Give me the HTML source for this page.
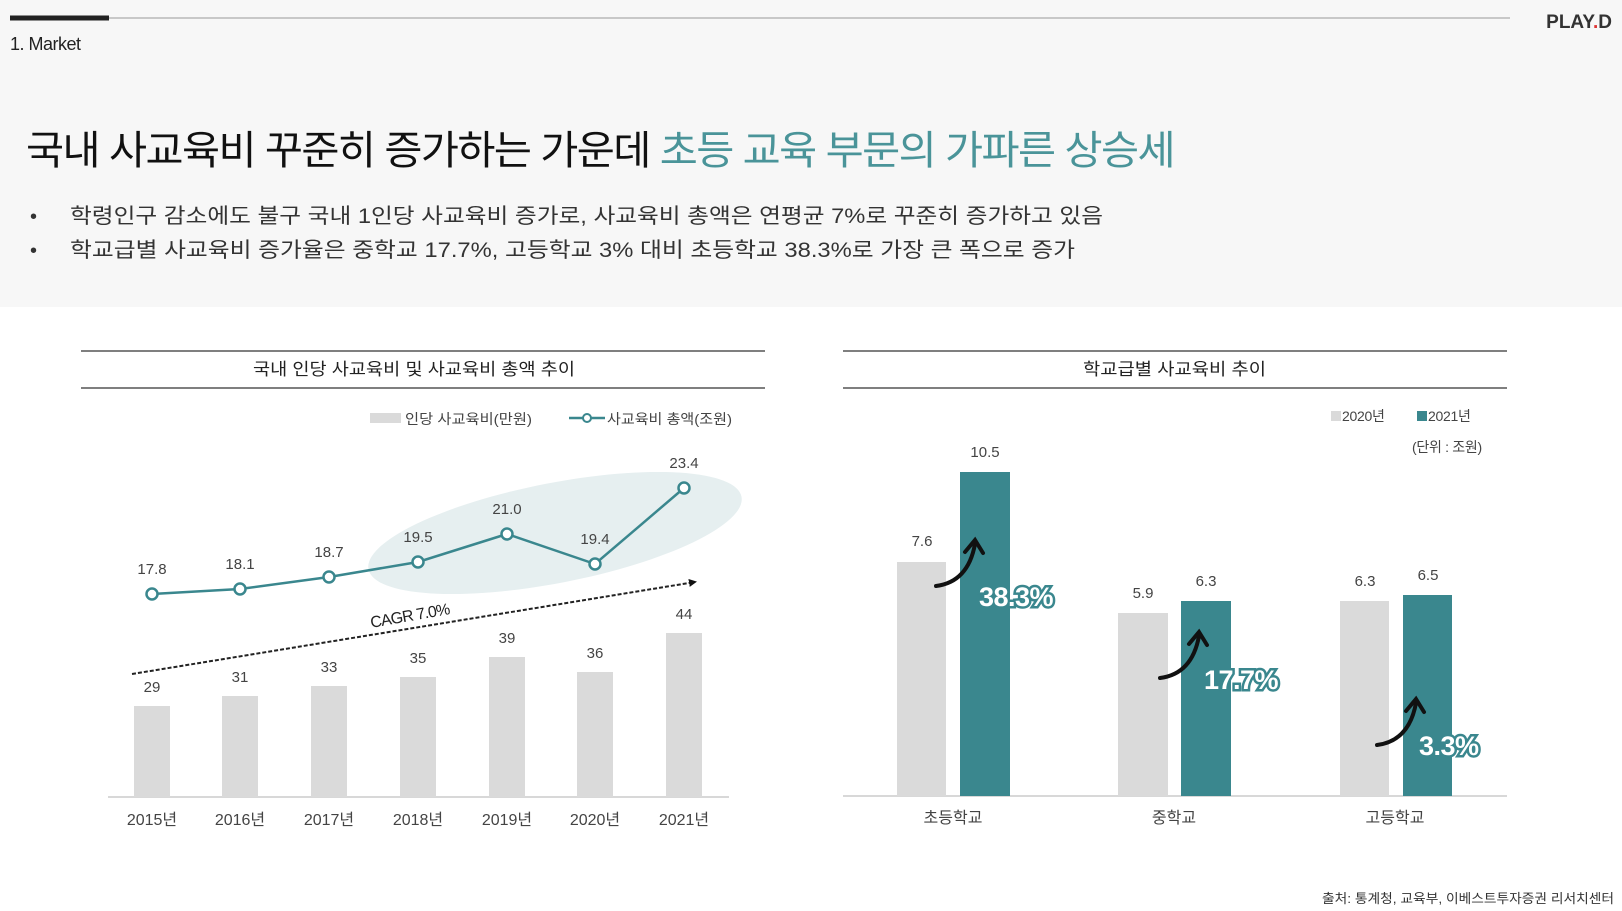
<!DOCTYPE html>
<html><head><meta charset="utf-8"><style>
html,body{margin:0;padding:0;background:#fff;}
svg{display:block;}
text{font-family:"Liberation Sans","Noto Sans CJK KR",sans-serif;}
</style></head><body>
<svg width="1622" height="911" viewBox="0 0 1622 911" xmlns="http://www.w3.org/2000/svg">
<defs>
<marker id="ah" markerWidth="8" markerHeight="8" refX="6" refY="4" orient="auto" markerUnits="userSpaceOnUse"><path d="M0,0 L8,4 L0,8 z" fill="#111"/></marker>
</defs>
<rect x="0" y="0" width="1622" height="307" fill="#f7f7f7"/>
<line x1="10" y1="18" x2="1510" y2="18" stroke="#c8c8c8" stroke-width="2"/>
<rect x="10" y="15.5" width="99" height="5" fill="#222"/>
<text x="1612" y="28" text-anchor="end" font-size="19" font-weight="bold" fill="#333">PLAY<tspan fill="#d33">.</tspan>D</text>
<text x="10" y="50" font-size="18" fill="#222" letter-spacing="-0.5">1. Market</text>
<text x="26" y="164" font-size="40" fill="#111" letter-spacing="-1.5" textLength="1148" lengthAdjust="spacingAndGlyphs">국내 사교육비 꾸준히 증가하는 가운데 <tspan fill="#4a9499">초등 교육 부문의 가파른 상승세</tspan></text>
<text x="30" y="223" font-size="20" fill="#333">•</text>
<text x="70" y="223" font-size="21" fill="#333" textLength="1033" lengthAdjust="spacingAndGlyphs">학령인구 감소에도 불구 국내 1인당 사교육비 증가로, 사교육비 총액은 연평균 7%로 꾸준히 증가하고 있음</text>
<text x="30" y="257" font-size="20" fill="#333">•</text>
<text x="70" y="257" font-size="21" fill="#333" textLength="1005" lengthAdjust="spacingAndGlyphs">학교급별 사교육비 증가율은 중학교 17.7%, 고등학교 3% 대비 초등학교 38.3%로 가장 큰 폭으로 증가</text>

<!-- Left chart -->
<line x1="81" y1="351" x2="765" y2="351" stroke="#555" stroke-width="1.5"/>
<line x1="81" y1="388" x2="765" y2="388" stroke="#555" stroke-width="1.5"/>
<text x="253" y="375" font-size="17" fill="#222" textLength="322" lengthAdjust="spacingAndGlyphs">국내 인당 사교육비 및 사교육비 총액 추이</text>
<rect x="370" y="413" width="31" height="10" fill="#dadada"/>
<text x="405" y="424" font-size="14" fill="#444" textLength="127" lengthAdjust="spacingAndGlyphs">인당 사교육비(만원)</text>
<line x1="569" y1="418" x2="605" y2="418" stroke="#3a878e" stroke-width="2.5"/>
<circle cx="587" cy="418" r="4" fill="#fff" stroke="#3a878e" stroke-width="2"/>
<text x="607" y="424" font-size="14" fill="#444" textLength="125" lengthAdjust="spacingAndGlyphs">사교육비 총액(조원)</text>
<ellipse cx="555" cy="533" rx="190" ry="50" fill="#e6eff0" transform="rotate(-11 555 533)"/>
<line x1="108" y1="797" x2="729" y2="797" stroke="#ccc" stroke-width="1.5"/>
<g fill="#dadada">
<rect x="134" y="706" width="36" height="91"/>
<rect x="222" y="696" width="36" height="101"/>
<rect x="311" y="686" width="36" height="111"/>
<rect x="400" y="677" width="36" height="120"/>
<rect x="489" y="657" width="36" height="140"/>
<rect x="577" y="672" width="36" height="125"/>
<rect x="666" y="633" width="36" height="164"/>
</g>
<g font-size="15" fill="#444" text-anchor="middle">
<text x="152" y="692">29</text><text x="240" y="682">31</text><text x="329" y="672">33</text><text x="418" y="663">35</text><text x="507" y="643">39</text><text x="595" y="658">36</text><text x="684" y="619">44</text>
</g>
<g font-size="16" fill="#444" text-anchor="middle">
<text x="152" y="825">2015년</text><text x="240" y="825">2016년</text><text x="329" y="825">2017년</text><text x="418" y="825">2018년</text><text x="507" y="825">2019년</text><text x="595" y="825">2020년</text><text x="684" y="825">2021년</text>
</g>
<line x1="132" y1="674" x2="695" y2="582" stroke="#222" stroke-width="2" stroke-dasharray="4,2" marker-end="url(#ah)"/>
<text x="410" y="621" font-size="16" fill="#222" text-anchor="middle" transform="rotate(-10 410 617)" letter-spacing="-0.8">CAGR 7.0%</text>
<polyline points="152,594 240,589 329,577 418,562 507,534 595,564 684,488" fill="none" stroke="#3a878e" stroke-width="2.5"/>
<g fill="#fff" stroke="#3a878e" stroke-width="2.5">
<circle cx="152" cy="594" r="5.5"/><circle cx="240" cy="589" r="5.5"/><circle cx="329" cy="577" r="5.5"/><circle cx="418" cy="562" r="5.5"/><circle cx="507" cy="534" r="5.5"/><circle cx="595" cy="564" r="5.5"/><circle cx="684" cy="488" r="5.5"/>
</g>
<g font-size="15" fill="#444" text-anchor="middle">
<text x="152" y="574">17.8</text><text x="240" y="569">18.1</text><text x="329" y="557">18.7</text><text x="418" y="542">19.5</text><text x="507" y="514">21.0</text><text x="595" y="544">19.4</text><text x="684" y="468">23.4</text>
</g>

<!-- Right chart -->
<line x1="843" y1="351" x2="1507" y2="351" stroke="#555" stroke-width="1.5"/>
<line x1="843" y1="388" x2="1507" y2="388" stroke="#555" stroke-width="1.5"/>
<text x="1083" y="375" font-size="17" fill="#222" textLength="183" lengthAdjust="spacingAndGlyphs">학교급별 사교육비 추이</text>
<rect x="1331" y="411" width="10" height="10" fill="#dadada"/>
<text x="1342" y="421" font-size="14" fill="#444" letter-spacing="-0.3">2020년</text>
<rect x="1417" y="411" width="10" height="10" fill="#3a878e"/>
<text x="1428" y="421" font-size="14" fill="#444" letter-spacing="-0.3">2021년</text>
<text x="1412" y="452" font-size="14" fill="#444" letter-spacing="-0.3">(단위 : 조원)</text>
<line x1="843" y1="796" x2="1507" y2="796" stroke="#ccc" stroke-width="1.5"/>
<rect x="897" y="562" width="49" height="234" fill="#dadada"/>
<rect x="960" y="472" width="50" height="324" fill="#3a878e"/>
<rect x="1118" y="613" width="50" height="183" fill="#dadada"/>
<rect x="1181" y="601" width="50" height="195" fill="#3a878e"/>
<rect x="1340" y="601" width="49" height="195" fill="#dadada"/>
<rect x="1403" y="595" width="49" height="201" fill="#3a878e"/>
<g font-size="15" fill="#444" text-anchor="middle">
<text x="922" y="546">7.6</text><text x="985" y="457">10.5</text>
<text x="1143" y="598">5.9</text><text x="1206" y="586">6.3</text>
<text x="1365" y="586">6.3</text><text x="1428" y="580">6.5</text>
</g>
<g font-size="16" fill="#444" text-anchor="middle">
<text x="953" y="823">초등학교</text><text x="1174" y="823">중학교</text><text x="1395" y="823">고등학교</text>
</g>
<g fill="none" stroke="#111" stroke-width="4" stroke-linecap="round">
<path d="M936,586 Q968,582 975,544"/><path d="M965,552 L975,540 L983,553"/>
<path d="M1160,678 Q1192,674 1199,636"/><path d="M1189,644 L1199,632 L1207,645"/>
<path d="M1377,745 Q1409,741 1416,703"/><path d="M1406,711 L1416,699 L1424,712"/>
</g>
<g font-size="27" font-weight="bold" fill="#fff" stroke="#3a878e" stroke-width="5" paint-order="stroke" letter-spacing="-0.5">
<text x="979" y="606">38.3%</text>
<text x="1204" y="689">17.7%</text>
<text x="1419" y="755">3.3%</text>
</g>
<text x="1614" y="903" font-size="13" fill="#333" text-anchor="end" textLength="292" lengthAdjust="spacingAndGlyphs">출처: 통계청, 교육부, 이베스트투자증권 리서치센터</text>
</svg>
</body></html>
